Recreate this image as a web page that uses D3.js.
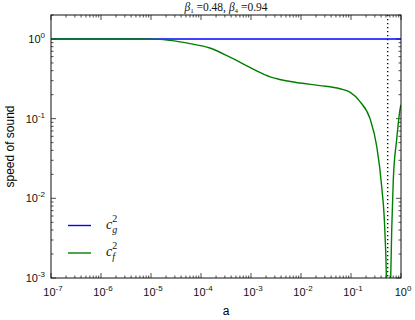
<!DOCTYPE html>
<html>
<head>
<meta charset="utf-8">
<script src="https://cdn.jsdelivr.net/npm/d3@7"></script>
<style>
  body { margin: 0; background: #fff; }
  svg { display: block; }
  .tick-label { font-family: "Liberation Sans", Arial, sans-serif; font-size: 11px; fill: #111; }
  .math { font-family: "Liberation Serif", "Times New Roman", serif; }
</style>
</head>
<body>
<div id="chart"></div>
<script>
// scale factor a (log x) and squared sound speeds (log y)
var aValues = [1e-7, 1e-6, 6.0e-6, 1.5e-5, 2.4e-5, 3.8e-5, 6.0e-5, 1.5e-4, 3.8e-4, 9.5e-4, 1.5e-3,
    2.4e-3, 3.8e-3, 9.5e-3, 2.4e-2, 6.0e-2, 9.5e-2, 0.15, 0.24, 0.327, 0.411,
    0.479, 0.513, 0.542, 0.575, 0.622, 0.652, 0.701, 0.82, 0.955, 1.0];
var cf2 = [1.0, 1.0, 0.998, 0.988, 0.96, 0.92, 0.875, 0.77, 0.59, 0.44, 0.38,
    0.335, 0.31, 0.28, 0.26, 0.237, 0.215, 0.165, 0.10, 0.045, 0.014,
    0.0035, 0.0008, 0.00001, 0.0004, 0.001, 0.004, 0.017, 0.055, 0.13, 0.15];
var cgA = [1e-7, 1.0];
var cg2 = [1.0, 1.0];
var aCross = 0.542;   // dotted line where c_f^2 hits zero
var xDomain = [1e-7, 1];
var yDomain = [1e-3, 2];
var xMajor = [-7, -6, -5, -4, -3, -2, -1, 0];
var yMajor = [-3, -2, -1, 0];

var W = 415, H = 320;
var plotL = 51, plotR = 401, plotT = 15, plotB = 278;

var svg = d3.select("#chart").append("svg")
    .attr("width", W)
    .attr("height", H);

var x = d3.scaleLog().domain(xDomain).range([plotL, plotR]);
var y = d3.scaleLog().domain(yDomain).range([plotB, plotT]);

svg.append("defs").append("clipPath")
    .attr("id", "plotclip")
    .append("rect")
    .attr("x", plotL).attr("y", plotT)
    .attr("width", plotR - plotL).attr("height", plotB - plotT);

// minor ticks list
function minorTicks(scale, lo, hi) {
    var out = [];
    var d = scale.domain();
    for (var e = lo; e < hi; e++) {
        for (var k = 2; k <= 9; k++) {
            var v = k * Math.pow(10, e);
            if (v >= d[0] && v <= d[1]) out.push(v);
        }
    }
    return out;
}
var xMinor = minorTicks(x, -7, 0);
var yMinor = minorTicks(y, -3, 1);

var ticks = svg.append("g").attr("stroke", "#222").attr("stroke-width", 0.8);
xMajor.forEach(function (e) {
    var px = x(Math.pow(10, e));
    ticks.append("line").attr("x1", px).attr("x2", px).attr("y1", plotB).attr("y2", plotB - 5);
    ticks.append("line").attr("x1", px).attr("x2", px).attr("y1", plotT).attr("y2", plotT + 5);
});
xMinor.forEach(function (v) {
    var px = x(v);
    ticks.append("line").attr("x1", px).attr("x2", px).attr("y1", plotB).attr("y2", plotB - 2.5);
    ticks.append("line").attr("x1", px).attr("x2", px).attr("y1", plotT).attr("y2", plotT + 2.5);
});
yMajor.forEach(function (e) {
    var py = y(Math.pow(10, e));
    ticks.append("line").attr("x1", plotL).attr("x2", plotL + 5).attr("y1", py).attr("y2", py);
    ticks.append("line").attr("x1", plotR).attr("x2", plotR - 5).attr("y1", py).attr("y2", py);
});
yMinor.forEach(function (v) {
    var py = y(v);
    ticks.append("line").attr("x1", plotL).attr("x2", plotL + 2.5).attr("y1", py).attr("y2", py);
    ticks.append("line").attr("x1", plotR).attr("x2", plotR - 2.5).attr("y1", py).attr("y2", py);
});

// tick labels 10^n
function powLabel(g, px, py, e, anchor) {
    var t = g.append("text")
        .attr("class", "tick-label")
        .attr("x", px).attr("y", py)
        .attr("text-anchor", anchor);
    t.append("tspan").text("10");
    t.append("tspan").attr("dy", -5).attr("font-size", "8px").text(e);
}
var labels = svg.append("g");
xMajor.forEach(function (e) {
    powLabel(labels, x(Math.pow(10, e)) + 2, 296, e, "middle");
});
yMajor.forEach(function (e) {
    powLabel(labels, 45, y(Math.pow(10, e)) + 4, e, "end");
});

// lines
var line = d3.line()
    .x(function (d) { return x(d[0]); })
    .y(function (d) { return y(d[1]); })
    .curve(d3.curveMonotoneX);

var plot = svg.append("g").attr("clip-path", "url(#plotclip)");

plot.append("line")
    .attr("x1", x(aCross)).attr("x2", x(aCross))
    .attr("y1", plotT).attr("y2", plotB)
    .attr("stroke", "#000")
    .attr("stroke-width", 1.3)
    .attr("stroke-dasharray", "1.3,2.7");

plot.append("path")
    .datum(d3.zip(cgA, cg2))
    .attr("d", line)
    .attr("fill", "none")
    .attr("stroke", "#0000ff")
    .attr("stroke-width", 1.4);

plot.append("path")
    .datum(d3.zip(aValues, cf2))
    .attr("d", line)
    .attr("fill", "none")
    .attr("stroke", "#008000")
    .attr("stroke-width", 1.4);

// frame
svg.append("rect")
    .attr("x", plotL).attr("y", plotT)
    .attr("width", plotR - plotL).attr("height", plotB - plotT)
    .attr("fill", "none")
    .attr("stroke", "#111")
    .attr("stroke-width", 1);

// title
var title = svg.append("text")
    .attr("class", "math")
    .attr("x", (plotL + plotR) / 2).attr("y", 11)
    .attr("text-anchor", "middle")
    .attr("font-size", "11.5px")
    .attr("fill", "#111");
title.append("tspan").attr("font-style", "italic").text("β");
title.append("tspan").attr("font-size", "7px").attr("dy", 2).text("1");
title.append("tspan").attr("dy", -2).text(" =0.48, ");
title.append("tspan").attr("font-style", "italic").text("β");
title.append("tspan").attr("font-size", "7px").attr("dy", 2).text("4");
title.append("tspan").attr("dy", -2).text(" =0.94");

// axis labels
svg.append("text")
    .attr("x", (plotL + plotR) / 2).attr("y", 315)
    .attr("text-anchor", "middle")
    .attr("font-family", "Liberation Sans, Arial, sans-serif")
    .attr("font-size", "12px")
    .text("a");

svg.append("text")
    .attr("transform", "translate(14," + ((plotT + plotB) / 2) + ") rotate(-90)")
    .attr("text-anchor", "middle")
    .attr("font-family", "Liberation Sans, Arial, sans-serif")
    .attr("font-size", "12px")
    .text("speed of sound");

// legend
var legendItems = [
    { color: "#0000ff", sub: "g", y: 225.5 },
    { color: "#008000", sub: "f", y: 253 }
];
var legend = svg.append("g");
legendItems.forEach(function (d) {
    legend.append("line")
        .attr("x1", 68).attr("x2", 91)
        .attr("y1", d.y).attr("y2", d.y)
        .attr("stroke", d.color)
        .attr("stroke-width", 1.4);
    var t = legend.append("text")
        .attr("class", "math")
        .attr("x", 106).attr("y", d.y + 3)
        .attr("font-size", "14px")
        .attr("font-style", "italic")
        .attr("fill", "#111");
    t.append("tspan").text("c");
    t.append("tspan").attr("font-size", "10px").attr("font-style", "normal").attr("dy", -7).text("2");
    t.append("tspan").attr("font-size", "10px").attr("dx", -5).attr("dy", 11).text(d.sub);
});
</script>
</body>
</html>
